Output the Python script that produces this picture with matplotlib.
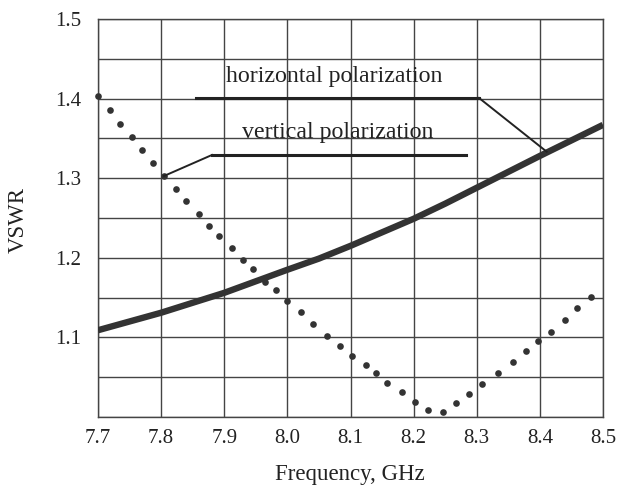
import matplotlib
matplotlib.use("Agg")
import matplotlib.pyplot as plt
import numpy as np

# Vertical polarization (dotted series)
vert_freq = [7.700, 7.7185, 7.7349, 7.7534, 7.7692, 7.7871, 7.8046, 7.8236, 7.8394, 7.8595,
             7.8758, 7.8917, 7.9123, 7.9302, 7.9460, 7.9646, 7.9820, 7.9999, 8.0216, 8.0411,
             8.0633, 8.0834, 8.1028, 8.1241, 8.1404, 8.1583, 8.1820, 8.2022, 8.2223, 8.2460,
             8.2666, 8.2872, 8.3088, 8.3332, 8.3569, 8.3775, 8.3975, 8.4176, 8.4398, 8.4593,
             8.4805]
vert_vswr = [1.403, 1.386, 1.368, 1.352, 1.335, 1.319, 1.303, 1.287, 1.271, 1.255,
             1.240, 1.227, 1.212, 1.197, 1.186, 1.170, 1.159, 1.146, 1.132, 1.117,
             1.102, 1.089, 1.077, 1.065, 1.055, 1.043, 1.031, 1.019, 1.0085, 1.006,
             1.017, 1.029, 1.0415, 1.055, 1.069, 1.083, 1.095, 1.107, 1.122, 1.137,
             1.151]

# Horizontal polarization (thick solid line)
horiz_freq = [7.7, 7.8, 7.9, 8.0, 8.05, 8.1, 8.2, 8.25, 8.3, 8.4, 8.5]
horiz_vswr = [1.109, 1.131, 1.156, 1.185, 1.199, 1.215, 1.249, 1.268, 1.288, 1.328, 1.367]

x_ticks = [7.7, 7.8, 7.9, 8.0, 8.1, 8.2, 8.3, 8.4, 8.5]
x_tick_labels = ["7.7", "7.8", "7.9", "8.0", "8.1", "8.2", "8.3", "8.4", "8.5"]
y_grid = [1.0, 1.05, 1.1, 1.15, 1.2, 1.25, 1.3, 1.35, 1.4, 1.45, 1.5]
y_tick_labels = ["", "", "1.1", "", "1.2", "", "1.3", "", "1.4", "", "1.5"]

# Annotation leader lines (data coordinates)
h_label = "horizontal polarization"
h_leader_x = [7.8553, 8.3036, 8.4108]
h_leader_y = [1.4008, 1.4008, 1.3333]
v_label = "vertical polarization"
v_leader_x = [8.2829, 7.8806, 7.8046]
v_leader_y = [1.3292, 1.3292, 1.3028]

plt.rcParams['font.family'] = ['Liberation Serif', 'DejaVu Serif']

fig = plt.figure(figsize=(6.19, 4.87), dpi=100)
ax = fig.add_axes([98/619, 1-417/487, 505/619, 398/487])

ink = '#333333'
ax.set_xlim(7.7, 8.5)
ax.set_ylim(1.0, 1.5)
ax.set_xticks(x_ticks)
ax.set_xticklabels(x_tick_labels)
ax.set_yticks(y_grid)
ax.set_yticklabels(y_tick_labels)
ax.tick_params(length=0, labelsize=15, colors='#222222')
ax.tick_params(axis='x', pad=8.5)
ax.tick_params(axis='y', pad=12)
ax.grid(True, color='#444444', linewidth=1.0)
ax.set_axisbelow(True)
for s in ax.spines.values():
    s.set_color('#444444')
    s.set_linewidth(1.0)

ax.plot(horiz_freq, horiz_vswr, color=ink, linewidth=4.6, solid_capstyle='butt',
        solid_joinstyle='round', zorder=3)
ax.plot(vert_freq, vert_vswr, linestyle='none', marker='o', markersize=4.8,
        color=ink, markeredgewidth=0, zorder=3, clip_on=False)

# leader lines
ax.plot(h_leader_x[:2], h_leader_y[:2], color='#222222', linewidth=2.2, zorder=4)
ax.plot(h_leader_x[1:], h_leader_y[1:], color='#222222', linewidth=1.4, zorder=4)
ax.plot(v_leader_x[:2], v_leader_y[:2], color='#222222', linewidth=2.2, zorder=4)
ax.plot(v_leader_x[1:], v_leader_y[1:], color='#222222', linewidth=1.4, zorder=4)

ax.text(8.0739, 1.421, h_label, ha='center', va='baseline', fontsize=17.2, color='#222222', zorder=5)
ax.text(8.0802, 1.3505, v_label, ha='center', va='baseline', fontsize=17.2, color='#222222', zorder=5)

ax.text(0.499, -0.1445, "Frequency, GHz", transform=ax.transAxes, ha='center', va='center',
        fontsize=16.5, color='#222222')
ax.text(-0.158, 0.494, "VSWR", transform=ax.transAxes, ha='center', va='center',
        rotation=90, fontsize=16.5, color='#222222')

fig.savefig("out.png", dpi=100)
